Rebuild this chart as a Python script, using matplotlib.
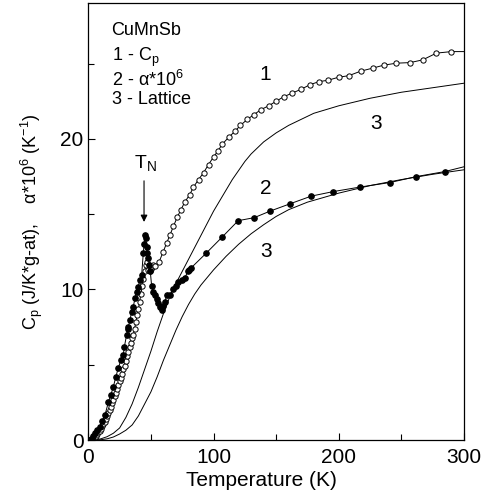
import matplotlib
matplotlib.use("Agg")
import matplotlib.pyplot as plt
from matplotlib.ticker import MultipleLocator

plt.rcParams["font.family"] = ["Liberation Sans", "DejaVu Sans"]
plt.rcParams["mathtext.fontset"] = "custom"
plt.rcParams["mathtext.rm"] = "Liberation Sans"
plt.rcParams["mathtext.it"] = "Liberation Sans"

# curve 1 - Cp (open circles); last pair is the line end at the frame
cp_T = [1, 2, 3, 4, 5, 6, 7, 8, 9, 10, 11, 12, 13, 14, 15, 16, 17, 18, 19, 20,
        21, 22, 23, 24, 25, 26, 27, 28, 29, 30, 31, 32, 33, 34, 35, 36, 37, 38,
        39, 40, 41, 42, 43, 44, 45, 46, 47, 48, 49, 50, 51, 52, 53.2, 56.6,
        59.8, 62.5, 65.2, 68, 71, 74, 77, 81, 84, 88, 92, 96, 100, 103.5, 107,
        112, 117, 121.5, 127, 132, 138, 144, 150, 156, 163, 170, 177, 184,
        191.5, 200, 208, 217.5, 227, 236, 246, 257, 267, 278, 290, 300]
cp_val = [0.02, 0.05, 0.1, 0.15, 0.22, 0.3, 0.4, 0.5, 0.62, 0.75, 0.9, 1.05,
          1.2, 1.4, 1.6, 1.8, 2.0, 2.2, 2.45, 2.65, 2.9, 3.15, 3.4, 3.65, 3.9,
          4.15, 4.4, 4.7, 4.95, 5.25, 5.55, 5.85, 6.15, 6.45, 6.75, 7.0, 7.4,
          7.85, 8.3, 8.7, 9.2, 9.7, 10.2, 10.7, 11.2, 11.6, 11.85, 11.3, 11.2,
          11.35, 11.5, 11.6, 11.55, 11.85, 12.5, 13.07, 13.62, 14.2, 14.8, 15.3,
          15.8, 16.3, 16.8, 17.3, 17.75, 18.3, 18.8, 19.2, 19.65, 20.1, 20.5,
          20.9, 21.3, 21.6, 21.95, 22.2, 22.5, 22.8, 23.05, 23.3, 23.6, 23.8,
          23.9, 24.1, 24.2, 24.5, 24.7, 24.9, 25.03, 25.07, 25.25, 25.7, 25.8,
          25.8]

# curve 2 - alpha*10^6 (filled circles); last pair is the line end at the frame
al_T = [1, 2.7, 4, 5.3, 7, 9.3, 11, 13.3, 16, 18, 20, 22, 24, 26, 27.9, 28.8,
        30.6, 31.5, 32, 33.3, 34.6, 35.9, 37.3, 38.6, 39.9, 41, 42.6, 43.9,
        44.5, 45.2, 45.7, 46.5, 47, 48, 48.7, 49.5, 50.6, 51.9, 53, 54.5, 56,
        57.2, 58.5, 59.5, 61.2, 62.6, 65.2, 67.9, 70, 71.9, 74.5, 77, 79.5,
        80.6, 81.7, 94, 107, 119.7, 132.5, 145, 161.4, 178, 195.5, 216.8,
        240.7, 262, 284.6, 300]
al_val = [0.0, 0.1, 0.25, 0.44, 0.65, 0.88, 1.25, 1.66, 2.5, 3.0, 3.54, 4.2,
          4.8, 5.3, 5.65, 6.2, 6.98, 7.4, 7.53, 7.97, 8.53, 8.86, 9.41, 9.86,
          10.19, 10.6, 10.96, 12.4, 13.0, 13.62, 13.4, 12.8, 12.4, 12.1, 11.6,
          11.2, 10.2, 9.86, 9.6, 9.4, 9.1, 8.86, 8.64, 8.9, 9.19, 9.63, 9.63,
          10.0, 10.2, 10.5, 10.63, 10.75, 11.2, 11.3, 11.4, 12.4, 13.49, 14.57,
          14.77, 15.2, 15.7, 16.2, 16.5, 16.8, 17.1, 17.5, 17.83, 18.15]

# curve 3 - lattice contributions (solid lines)
lat_cp_T = [0, 5, 10, 15, 20, 25, 30, 35, 40, 45, 50, 55, 60, 65, 70, 75, 80,
            85, 90, 95, 100, 105, 110, 115, 120, 125, 130, 140, 150, 160, 170,
            180, 200, 225, 250, 275, 300]
lat_cp_val = [0, 0.01, 0.08, 0.22, 0.45, 0.8, 1.5, 2.4, 3.5, 4.7, 5.9, 7.2,
              8.4, 9.5, 10.4, 11.2, 12.0, 12.8, 13.6, 14.4, 15.2, 15.9, 16.6,
              17.3, 17.9, 18.5, 19.0, 19.8, 20.4, 20.9, 21.3, 21.7, 22.2, 22.7,
              23.1, 23.4, 23.7]
lat_al_T = [0, 5, 10, 15, 20, 25, 30, 35, 40, 45, 50, 55, 60, 65, 70, 75, 80,
            85, 90, 100, 110, 120, 130, 140, 150, 160, 175, 200, 225, 250, 275,
            300]
lat_al_val = [0, 0.005, 0.02, 0.08, 0.2, 0.4, 0.65, 1.0, 1.6, 2.4, 3.2, 4.2,
              5.3, 6.3, 7.3, 8.2, 9.0, 9.7, 10.3, 11.3, 12.2, 13.0, 13.7, 14.3,
              14.85, 15.3, 15.8, 16.4, 16.9, 17.3, 17.65, 17.95]

legend_title = "CuMnSb"
legend_lines = [r"1 - C$_{\mathregular{p}}$",
                r"2 - $\alpha$*10$^{\mathregular{6}}$", "3 - Lattice"]

fig = plt.figure(figsize=(4.86, 5.03), dpi=100)
ax = fig.add_axes([0.1817, 0.1252, 0.773, 0.868])

lw = 0.7
ax.plot(lat_cp_T, lat_cp_val, color="black", lw=lw)
ax.plot(lat_al_T, lat_al_val, color="black", lw=lw)
ax.plot(cp_T, cp_val, color="black", lw=lw, marker="o", ms=3.8, mfc="white",
        mec="black", mew=0.7, markevery=list(range(len(cp_T) - 1)))
ax.plot(al_T, al_val, color="black", lw=lw, marker="o", ms=3.8, mfc="black",
        mec="black", markevery=list(range(len(al_T) - 1)))

ax.set_xlim(0, 300)
ax.set_ylim(0, 29)
ax.xaxis.set_major_locator(MultipleLocator(100))
ax.xaxis.set_minor_locator(MultipleLocator(50))
ax.yaxis.set_major_locator(MultipleLocator(10))
ax.yaxis.set_minor_locator(MultipleLocator(5))
ax.tick_params(which="both", direction="in", labelsize=15, top=False, right=False)
ax.tick_params(which="major", length=5, width=0.8)
ax.tick_params(which="minor", length=4, width=0.8)
ax.tick_params(axis="x", which="major", pad=6)
for sp in ax.spines.values():
    sp.set_linewidth(0.9)

ax.set_xlabel("Temperature (K)", fontsize=15)
ax.xaxis.set_label_coords(0.46, -0.07)
ax.set_ylabel(r"C$_{\mathregular{p}}$ (J/K*g-at),    $\alpha$*10$^{\mathregular{6}}$ (K$^{\mathregular{-1}}$)",
              fontsize=13, labelpad=11)

# legend block: title alone, the three entries as one text
ax.text(0.062, 0.927, legend_title, fontsize=13, va="baseline", ha="left",
        transform=ax.transAxes)
ax.text(0.062, 0.7687, "\n".join(legend_lines), fontsize=13, va="baseline",
        ha="left", linespacing=1.08, transform=ax.transAxes)

ax.text(141, 24.25, "1", fontsize=15, ha="center", va="center")
ax.text(230, 21.0, "3", fontsize=15, ha="center", va="center")
ax.text(141.5, 16.7, "2", fontsize=15, ha="center", va="center")
ax.text(142, 12.5, "3", fontsize=15, ha="center", va="center")

ax.annotate("", xy=(44.5, 14.3), xytext=(44.5, 17.4),
            arrowprops=dict(arrowstyle="-|>", color="black", lw=0.8,
                            mutation_scale=10))
ax.text(45.5, 18.4, r"T$_{\mathregular{N}}$", fontsize=14, ha="center", va="center")

fig.savefig("out.png", dpi=100)
